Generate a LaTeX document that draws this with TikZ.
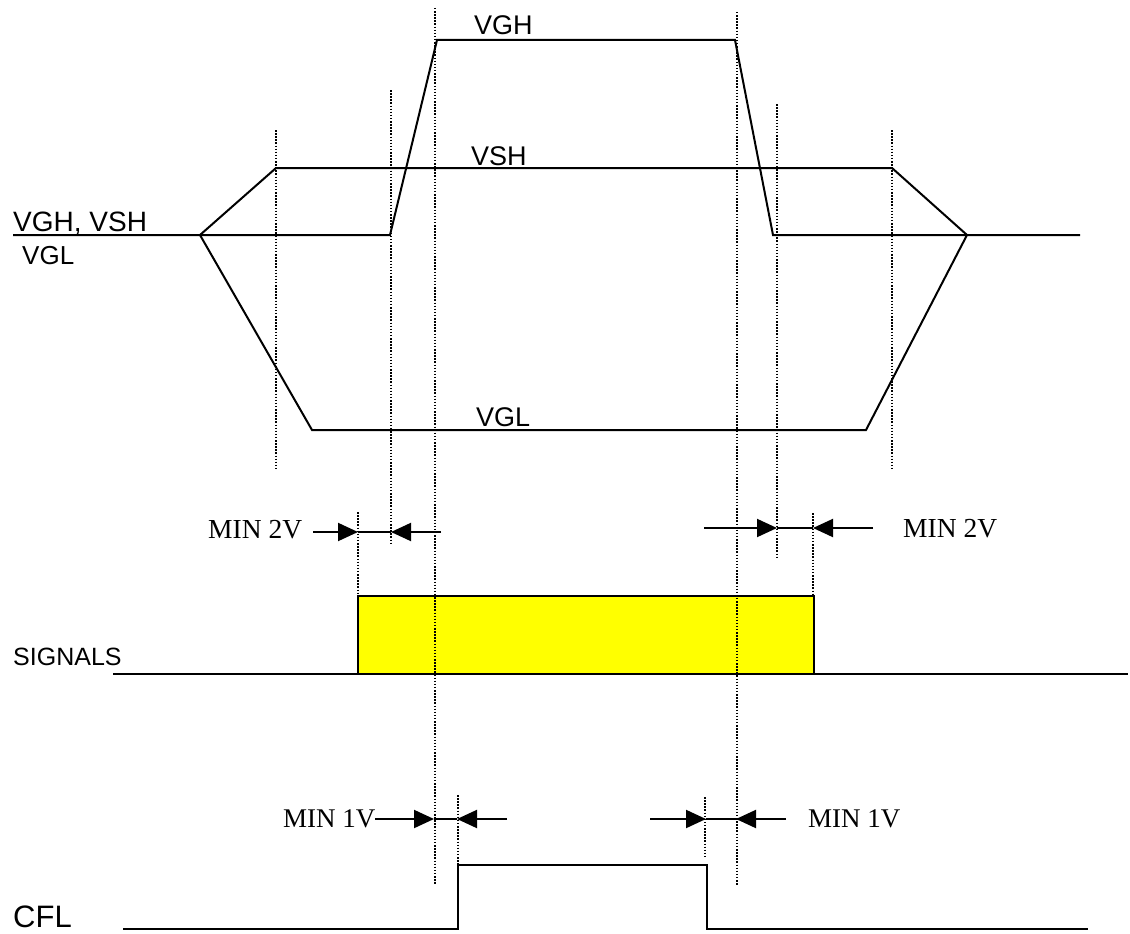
\documentclass[tikz,border=0pt]{standalone}
\usepackage{fontspec}
\setmainfont{Liberation Serif}
\newfontfamily\arialf{Liberation Sans}
\usetikzlibrary{arrows.meta}
\definecolor{sigyellow}{RGB}{255,255,0}
\begin{document}
\begin{tikzpicture}[x=1pt,y=-1pt,
  wave/.style={line width=2pt,line join=miter},
  guide/.style={line width=2pt,dash pattern=on 1.5pt off 1.6pt},
  tipped/.style={line width=2pt,-{Triangle[length=20pt,width=18pt]}},
  bar/.style={line width=2pt},
  sans/.style={font=\arialf\fontsize{27}{30}\selectfont,inner sep=0pt,anchor=base west},
  serif/.style={font=\fontsize{27.5}{30}\selectfont,inner sep=0pt,anchor=base west}]
\useasboundingbox (0,0) rectangle (1130,934);

% ---- key points of the supply waveforms
\coordinate (b0) at (13,235);
\coordinate (split) at (200,235);
\coordinate (gh1) at (390,235);
\coordinate (gh2) at (437,40);
\coordinate (gh3) at (735,40);
\coordinate (gh4) at (773,235);
\coordinate (bend) at (1080,235);
\coordinate (sh1) at (276,168);
\coordinate (sh2) at (892,168);
\coordinate (merge) at (967,235);
\coordinate (gl1) at (312,430);
\coordinate (gl2) at (866,430);

\draw[wave] (b0) -- (gh1) -- (gh2) -- (gh3) -- (gh4) -- (bend);
\draw[wave] (split) -- (sh1) -- (sh2) -- (merge);
\draw[wave] (split) -- (gl1) -- (gl2) -- (merge);

% ---- signals
\coordinate (r0) at (358,596);
\coordinate (r1) at (814,674);
\coordinate (s0) at (113,674);
\coordinate (s1) at (1128,674);
\draw[wave,fill=sigyellow] (r0) rectangle (r1);
\draw[wave] (s0) -- (r0 |- r1);
\draw[wave] (r1) -- (s1);

% ---- CFL
\coordinate (c0) at (123,929);
\coordinate (c1) at (458,929);
\coordinate (c2) at (458,865);
\coordinate (c3) at (707,865);
\coordinate (c4) at (707,929);
\coordinate (c5) at (1088,929);
\draw[wave] (c0) -- (c1) -- (c2) -- (c3) -- (c4) -- (c5);

% ---- dotted guides
\foreach \x/\ya/\yb in {276/130/470, 391/90/545, 435/8/885, 358/512/596, 458/795/870,
  705/797/857, 737/12/885, 777/104/558, 813/513/596, 892/130/470}
  \draw[guide] (\x,\ya) -- (\x,\yb);

% ---- labels
\node[sans,font=\arialf\fontsize{28}{30}\selectfont] (lvghvsh) at (13,231) {VGH, VSH};
\node[sans,font=\arialf\fontsize{26}{30}\selectfont] (lvgl) at (22,264) {VGL};
\node[sans] (tvgh) at (474,35) {VGH};
\node[sans] (tvsh) at (471,165) {VSH};
\node[sans] (tvgl) at (476,426) {VGL};
\node[sans,font=\arialf\fontsize{25}{30}\selectfont] (tsig) at (13,665) {SIGNALS};
\node[sans,font=\arialf\fontsize{31}{34}\selectfont] (tcfl) at (13,927) {CFL};

% ---- MIN 2V (left)
\node[serif] (m2l) at (208,538) {MIN 2V};
\coordinate (a1) at (313,532); \coordinate (a2) at (358,532);
\coordinate (a3) at (391,532); \coordinate (a4) at (441,532);
\draw[tipped] (a1) -- (a2);
\draw[bar] (a2) -- (a3);
\draw[tipped] (a4) -- (a3);

% ---- MIN 2V (right)
\node[serif] (m2r) at (903,537) {MIN 2V};
\coordinate (b1) at (704,528); \coordinate (b2) at (777,528);
\coordinate (b3) at (813,528); \coordinate (b4) at (873,528);
\draw[tipped] (b1) -- (b2);
\draw[bar] (b2) -- (b3);
\draw[tipped] (b4) -- (b3);

% ---- MIN 1V (left)
\node[serif,font=\fontsize{27}{30}\selectfont] (m1l) at (283,827) {MIN 1V};
\coordinate (d1) at (375,819); \coordinate (d2) at (434,819);
\coordinate (d3) at (457,819); \coordinate (d4) at (507,819);
\draw[tipped] (d1) -- (d2);
\draw[bar] (d2) -- (d3);
\draw[tipped] (d4) -- (d3);

% ---- MIN 1V (right)
\node[serif,font=\fontsize{27}{30}\selectfont] (m1r) at (808,827) {MIN 1V};
\coordinate (e1) at (650,819); \coordinate (e2) at (706,819);
\coordinate (e3) at (736,819); \coordinate (e4) at (786,819);
\draw[tipped] (e1) -- (e2);
\draw[bar] (e2) -- (e3);
\draw[tipped] (e4) -- (e3);
\end{tikzpicture}
\end{document}
